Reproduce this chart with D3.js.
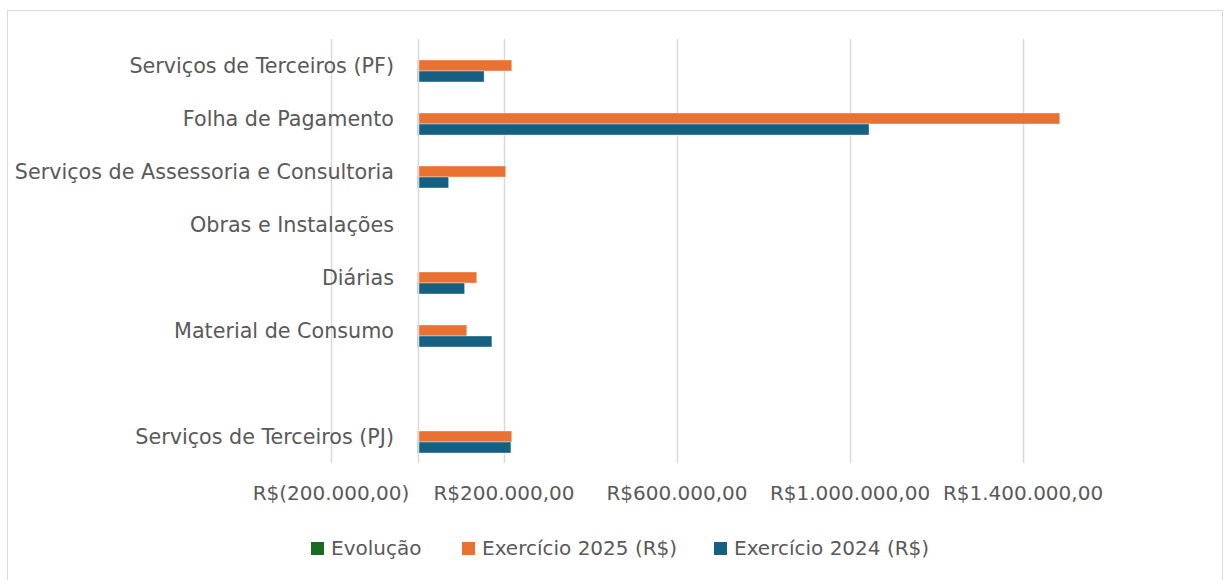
<!DOCTYPE html>
<html><head><meta charset="utf-8">
<script src="https://cdn.jsdelivr.net/npm/d3@7"></script>
<style>
html,body{margin:0;padding:0;background:#fff;}
svg{display:block;font-family:"DejaVu Sans","Open Sans",sans-serif;}
</style></head>
<body><svg id="c" width="1224" height="580"></svg>
<script>
const categories = ["Serviços de Terceiros (PF)","Folha de Pagamento","Serviços de Assessoria e Consultoria","Obras e Instalações","Diárias","Material de Consumo","","Serviços de Terceiros (PJ)"];
const evolucao = [0.42, 0.42, 1.81, 0, 0.25, -0.34, 0, 0.01];
const exercicio2025 = [218000, 1485000, 204000, 0, 137000, 114000, 0, 218000];
const exercicio2024 = [154000, 1044000, 72000, 0, 109000, 172000, 0, 216000];
const seriesNames = ["Evolução","Exercício 2025 (R$)","Exercício 2024 (R$)"];
const colors = ["#196B24","#E97132","#156082"];
const xTicks = [-200000, 200000, 600000, 1000000, 1400000];

const svg = d3.select("#c");
svg.append("rect").attr("x",7.5).attr("y",10.5).attr("width",1215).attr("height",600)
  .attr("fill","#fff").attr("stroke","#D9D9D9").attr("stroke-width",1);

const x = d3.scaleLinear().domain([-200000,1600000]).range([331,1109.5]);
const y = d3.scaleBand().domain(d3.range(categories.length)).range([39,463]).paddingInner(0.3774).paddingOuter(0.1887);
const inner = d3.scaleBand().domain([0,1,2]).range([0,y.bandwidth()]);

svg.append("g").selectAll("line").data(xTicks).join("line")
  .attr("x1",d=>Math.round(x(d))+0.5).attr("x2",d=>Math.round(x(d))+0.5)
  .attr("y1",39).attr("y2",463).attr("stroke","#D9D9D9").attr("stroke-width",1.5);

const series = [evolucao, exercicio2025, exercicio2024];
series.forEach((vals,si)=>{
  svg.append("g").selectAll("rect").data(vals).join("rect")
    .attr("x",d=>x(Math.min(0,d)))
    .attr("width",d=>Math.abs(x(d)-x(0)))
    .attr("y",(d,i)=>y(i)+inner(si))
    .attr("height",inner.bandwidth())
    .attr("fill",colors[si])
    .attr("stroke","#fff").attr("stroke-opacity",0.5).attr("stroke-width",0.75);
});

svg.append("line").attr("x1",Math.round(x(0))+0.5).attr("x2",Math.round(x(0))+0.5)
  .attr("y1",39).attr("y2",463).attr("stroke","#D9D9D9").attr("stroke-width",1.5);

svg.append("g").selectAll("text").data(categories).join("text")
  .attr("x",394).attr("y",(d,i)=>y(i)+y.bandwidth()/2).attr("dy","0.35em")
  .attr("text-anchor","end").attr("fill","#595959").attr("font-size",20.7).text(d=>d);

const fmt = v => {
  const s = Math.abs(v).toFixed(2).split(".");
  const intp = s[0].replace(/\B(?=(\d{3})+(?!\d))/g,".");
  return "R$" + (v<0?"(":"") + intp + "," + s[1] + (v<0?")":"");
};
svg.append("g").selectAll("text").data(xTicks).join("text")
  .attr("x",d=>x(d)).attr("y",493).attr("dy","0.35em").attr("text-anchor","middle")
  .attr("fill","#595959").attr("font-size",20).text(fmt);

const legX = [311, 462, 714];
const lg = svg.append("g").selectAll("g").data(seriesNames).join("g")
  .attr("transform",(d,i)=>`translate(${legX[i]},548)`);
lg.append("rect").attr("x",0).attr("y",-6).attr("width",13).attr("height",13).attr("fill",(d,i)=>colors[i]);
lg.append("text").attr("x",20).attr("y",0).attr("dy","0.35em").attr("fill","#595959").attr("font-size",20).text(d=>d);
</script></body></html>
